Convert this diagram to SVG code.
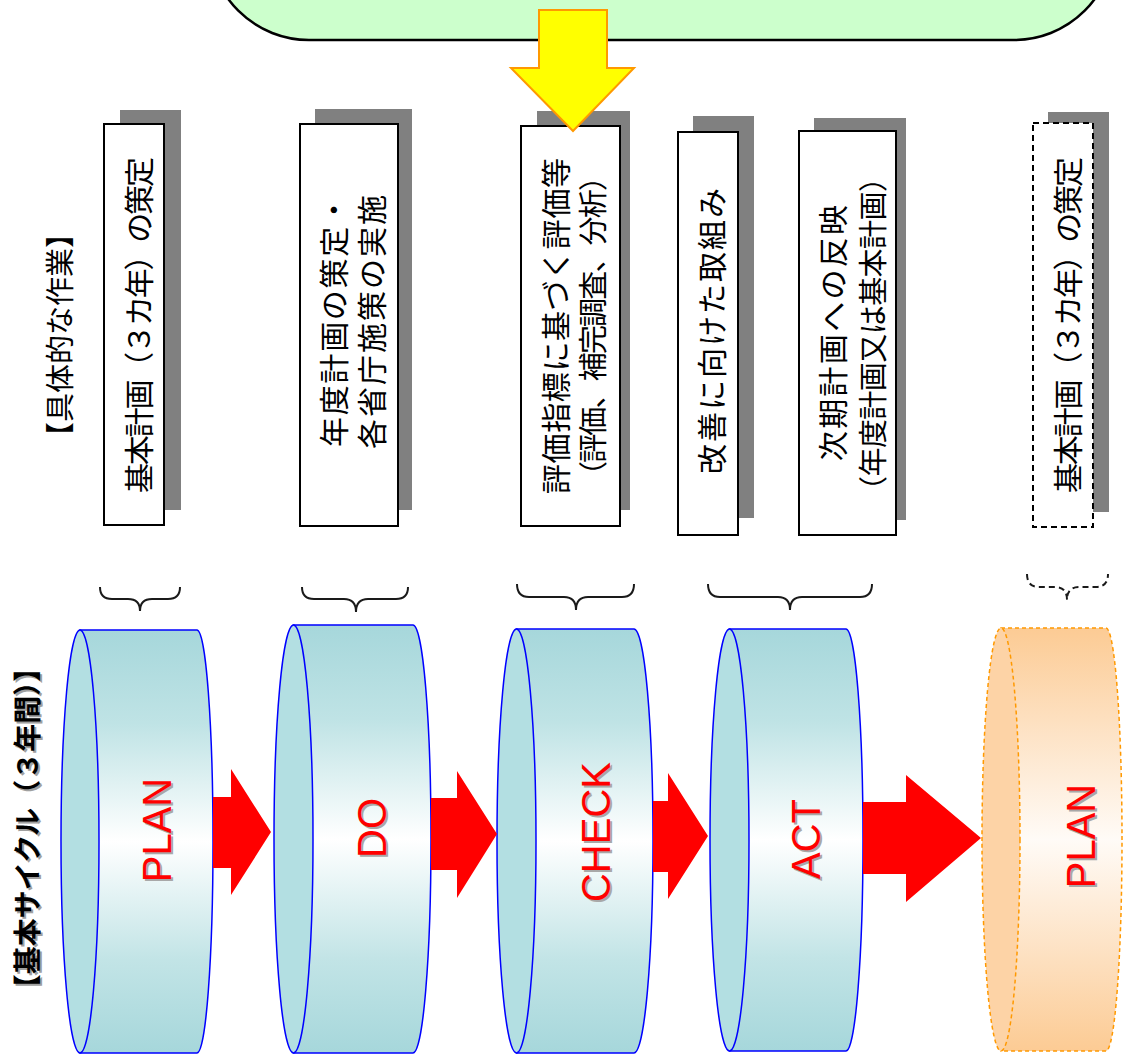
<svg xmlns="http://www.w3.org/2000/svg" width="1123" height="1054" viewBox="0 0 1123 1054">
<defs>
<linearGradient id="gBlue" x1="0" y1="0" x2="0" y2="1">
<stop offset="0" stop-color="#a6d7db"/>
<stop offset="0.22" stop-color="#bfe3e5"/>
<stop offset="0.5" stop-color="#ffffff"/>
<stop offset="0.78" stop-color="#c2e4e6"/>
<stop offset="1" stop-color="#a6d7db"/>
</linearGradient>
<linearGradient id="gOrange" x1="0" y1="0" x2="0" y2="1">
<stop offset="0" stop-color="#fccb94"/>
<stop offset="0.22" stop-color="#fde0c0"/>
<stop offset="0.5" stop-color="#fffbf7"/>
<stop offset="0.78" stop-color="#fde0c0"/>
<stop offset="1" stop-color="#fccb94"/>
</linearGradient>
</defs>
<style>
.box{fill:#ffffff;stroke:#000000;stroke-width:2}
.dbox{fill:#ffffff;stroke:#000000;stroke-width:2;stroke-dasharray:6 4}
.shadow{fill:#808080}
.jp{font-family:"Noto Sans CJK JP","Noto Sans CJK SC",sans-serif;font-size:30px;fill:#000000;text-anchor:middle;dominant-baseline:central}
.jps{font-size:29px}
.lbl{font-family:"Noto Sans CJK JP","Noto Sans CJK SC",sans-serif;text-anchor:middle;dominant-baseline:central}
.cyl{fill:url(#gBlue);stroke:#0000ff;stroke-width:1.5}
.face{fill:#b3dfe2;stroke:#0000ff;stroke-width:1.5}
.ocyl{fill:url(#gOrange);stroke:#ff9900;stroke-width:1.5;stroke-dasharray:4 3}
.oface{fill:#fdd3a6;stroke:#ff9900;stroke-width:1.5;stroke-dasharray:4 3}
.big{font-family:"Liberation Sans",Arial,sans-serif;font-size:40px;text-anchor:middle}
.red{fill:#ff0000}
.sh{fill:#a8a8a8}
.brace{fill:none;stroke:#1a1a1a;stroke-width:2}
.dbrace{fill:none;stroke:#1a1a1a;stroke-width:2;stroke-dasharray:6 4}
.rarrow{fill:#ff0000}
</style>
<rect width="1123" height="1054" fill="#ffffff"/>

<g id="top-box">
<rect x="209" y="-400" width="905" height="440" rx="100" ry="100" fill="#ccffcc" stroke="#000000" stroke-width="2.5"/>
</g>

<g id="label-work">
<text class="lbl" transform="translate(58,335) rotate(-90)" fill="#000000" font-size="29">【具体的な作業】</text>
</g>

<g id="label-cycle">
<text class="lbl" transform="translate(28,830) rotate(-90)" fill="#a0a0a0" font-weight="bold" font-size="28">【基本サイクル（３年間）】</text>
<text class="lbl" transform="translate(26,828) rotate(-90)" fill="#000000" font-weight="bold" font-size="28">【基本サイクル（３年間）】</text>
</g>

<g id="task-1">
<rect class="shadow" x="120" y="110" width="61" height="400"/>
<rect class="box" x="104" y="124" width="60" height="401"/>
<text class="jp" transform="translate(137,325) rotate(-90)" textLength="336" lengthAdjust="spacing">基本計画（３カ年）の策定</text>
</g>

<g id="task-2">
<rect class="shadow" x="315" y="109" width="97" height="401"/>
<rect class="box" x="300" y="124" width="98" height="402"/>
<text class="jp" transform="translate(332,321) rotate(-90)" textLength="252" lengthAdjust="spacing">年度計画の策定・</text>
<text class="jp" transform="translate(370,322) rotate(-90)" textLength="254" lengthAdjust="spacing">各省庁施策の実施</text>
</g>

<g id="task-3">
<rect class="shadow" x="537" y="111" width="93" height="399"/>
<rect class="box" x="521" y="126" width="99" height="400"/>
<text class="jp" transform="translate(554,326) rotate(-90)" textLength="336" lengthAdjust="spacing">評価指標に基づく評価等</text>
<text class="jp jps" transform="translate(591,326) rotate(-90)" textLength="328" lengthAdjust="spacing">（評価、補完調査、分析）</text>
</g>

<g id="task-4">
<rect class="shadow" x="693" y="116" width="61" height="402"/>
<rect class="box" x="678" y="132" width="60" height="403"/>
<text class="jp" transform="translate(710,331) rotate(-90)" textLength="286" lengthAdjust="spacing">改善に向けた取組み</text>
</g>

<g id="task-5">
<rect class="shadow" x="814" y="118" width="92" height="402"/>
<rect class="box" x="799" y="131" width="97" height="404"/>
<text class="jp" transform="translate(831,333) rotate(-90)" textLength="256" lengthAdjust="spacing">次期計画への反映</text>
<text class="jp jps" transform="translate(871,334) rotate(-90)" textLength="342" lengthAdjust="spacing">（年度計画又は基本計画）</text>
</g>

<g id="task-6">
<rect class="shadow" x="1048" y="112" width="61" height="400"/>
<rect class="dbox" x="1033" y="123" width="60" height="404"/>
<text class="jp" transform="translate(1066,325) rotate(-90)" textLength="336" lengthAdjust="spacing">基本計画（３カ年）の策定</text>
</g>

<g id="braces">
<path class="brace" d="M100,587 Q100,599 112,599 L128,599 Q140,599 140,611 Q140,599 152,599 L168,599 Q180,599 180,587"/>
<path class="brace" d="M302,587 Q302,599 314,599 L344,599 Q356,599 356,612 Q356,599 368,599 L396,599 Q408,599 408,587"/>
<path class="brace" d="M517,584 Q517,597 529,597 L564,597 Q576,597 576,610 Q576,597 588,597 L622,597 Q634,597 634,584"/>
<path class="brace" d="M708,584 Q708,597 720,597 L778,597 Q790,597 790,610 Q790,597 802,597 L860,597 Q872,597 872,584"/>
<path class="dbrace" d="M1027,574 Q1027,587 1039,587 L1055,587 Q1067,587 1067,600 Q1067,587 1079,587 L1096,587 Q1108,587 1108,574"/>
</g>

<g id="cyl-plan">
<path class="cyl" d="M80,630 L197,630 A16,211.5 0 0 1 197,1053 L80,1053 Z"/>
<ellipse class="face" cx="80" cy="841.5" rx="19" ry="211.5"/>
<text class="big sh" transform="translate(173,832) rotate(-90)">PLAN</text>
<text class="big red" transform="translate(171,830) rotate(-90)">PLAN</text>
</g>

<g id="cyl-do">
<path class="cyl" d="M293.5,625 L413,625 A18,214 0 0 1 413,1053 L293.5,1053 Z"/>
<ellipse class="face" cx="293.5" cy="839" rx="19.5" ry="214"/>
<text class="big sh" transform="translate(388,830) rotate(-90)">DO</text>
<text class="big red" transform="translate(386,828) rotate(-90)">DO</text>
</g>

<g id="cyl-check">
<path class="cyl" d="M516.5,629 L634,629 A19,212 0 0 1 634,1053 L516.5,1053 Z"/>
<ellipse class="face" cx="516.5" cy="841" rx="19.5" ry="212"/>
<text class="big sh" transform="translate(612,834) rotate(-90)">CHECK</text>
<text class="big red" transform="translate(610,832) rotate(-90)">CHECK</text>
</g>

<g id="cyl-act">
<path class="cyl" d="M729.5,629 L846,629 A17,211 0 0 1 846,1051 L729.5,1051 Z"/>
<ellipse class="face" cx="729.5" cy="840" rx="19.5" ry="211"/>
<text class="big sh" transform="translate(822,841) rotate(-90)">ACT</text>
<text class="big red" transform="translate(820,839) rotate(-90)">ACT</text>
</g>

<g id="cyl-plan-next">
<path class="ocyl" d="M1001,628 L1106,628 A16,211.5 0 0 1 1106,1051 L1001,1051 Z"/>
<ellipse class="oface" cx="1001" cy="839.5" rx="19" ry="211.5"/>
<text class="big sh" transform="translate(1097,838) rotate(-90)">PLAN</text>
<text class="big red" transform="translate(1095,836) rotate(-90)">PLAN</text>
</g>

<g id="connectors">
<polygon class="rarrow" points="213,797 231,797 231,769 271,832 231,895 231,868 213,868"/>
<polygon class="rarrow" points="431,798 457,798 457,771 497,834 457,898 457,870 431,870"/>
<polygon class="rarrow" points="653,801 668,801 668,773 708,836 668,899 668,872 653,872"/>
<polygon class="rarrow" points="863,802 906,802 906,775 981,838 906,902 906,874 863,874"/>
<polygon points="539,10 607,10 607,68 634,68 573,131 511,68 539,68" fill="#ffff00" stroke="#ff9900" stroke-width="2" stroke-linejoin="miter"/>
</g>
</svg>
